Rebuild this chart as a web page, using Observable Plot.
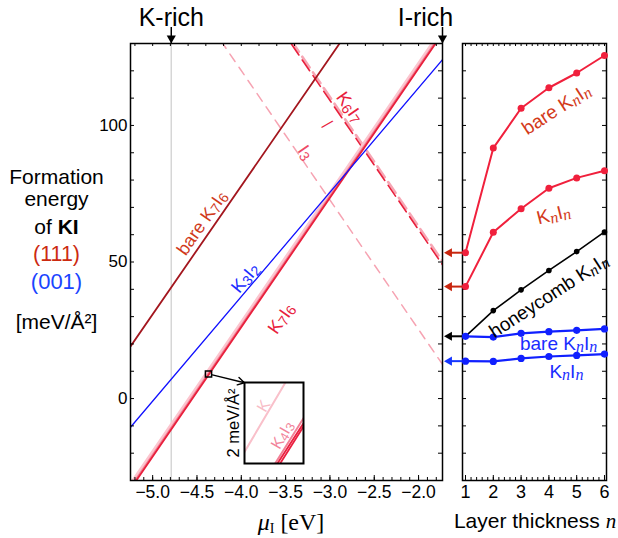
<!DOCTYPE html>
<html><head><meta charset="utf-8">
<script src="https://cdn.jsdelivr.net/npm/d3@7"></script>
<script src="https://cdn.jsdelivr.net/npm/@observablehq/plot@0.6"></script>
<style>
body{margin:0;background:#fff;}
#wrap{position:relative;width:618px;height:538px;overflow:hidden;font-family:"Liberation Sans",Arial,sans-serif;background:#fff;}
#wrap svg{display:block;}
</style></head><body><div id="wrap"></div>
<script>
// ---------------- data ----------------
const muDomain = [-5.25, -1.73];          // μI [eV]
const eDomain = [-30, 130];               // meV/Å²
const kRichMu = -4.79;
const iRichMu = -1.73;
const lineMu = [-5.25, -1.73];            // ends of each straight line
const bareK7I6 = [19.1, 184.6];
const K7I6 = [-33.1, 133.7];
const K4I3 = [-32.5, 134.3];
const Kslab = [-31.3, 135.5];
const K3I2 = [-10.5, 124.1];
const K6I7 = [215.8, 49.0];
const K6I7b = [217.0, 50.2];
const I3 = [179.3, 12.5];
const boxPoint = {mu: -4.37, E: 9.0};
const insetAnchor = {mu: -3.965, E: 5.8};

const nValues = [1, 2, 3, 4, 5, 6];
const nDomain = [0.892, 6.072];
const bare111 = [53.4, 91.7, 106.3, 113.8, 119.2, 125.6];
const knin111 = [41.0, 60.9, 69.5, 77.0, 80.8, 83.4];
const honeycomb111 = [22.8, 32.2, 39.8, 46.9, 53.8, 61.0];
const bare001 = [22.8, 22.5, 23.9, 24.5, 25.0, 25.5];
const knin001 = [13.7, 13.6, 14.7, 15.4, 15.8, 16.3];

// inset (zoomed view, 2 meV/Å² tall)
const insetU = [0, 1];
const insetK = [0.286, 2.756];
const insetK4I3 = [-1.211, 1.119];
const insetRedA = [-1.257, 0.993];
const insetRedB = [-1.396, 0.914];

const mainLabels = [
  {text: "bare K_{7}I_{6}", mu: -4.443, E: 64.3, rotate: -55, color: "#d03a1c"},
  {text: "K_{3}I_{2}", mu: -3.954, E: 44.1, rotate: -50, color: "#1a2cff"},
  {text: "K_{7}I_{6}", mu: -3.547, E: 29.3, rotate: -55, color: "#e8203c"},
  {text: "K_{6}I_{7}", mu: -2.778, E: 106.6, rotate: 55, color: "#e8203c"},
  {text: "I_{3}", mu: -3.276, E: 90.1, rotate: 55, color: "#ee4a66"}
];
const leaderMark = [{mu: -3.021, E: 100.6}];
const rightLabels = [
  {text: "bare K_{n}I_{n}", n: 4.27, E: 105.9, rotate: -33, color: "#d33a1a"},
  {text: "K_{n}I_{n}", n: 4.17, E: 67.4, rotate: -14, color: "#d33a1a"},
  {text: "honeycomb K_{n}I_{n}", n: 4.0, E: 37.6, rotate: -33, color: "#000000"},
  {text: "bare K_{n}I_{n}", n: 4.35, E: 20.0, rotate: 0, color: "#1a2cff"},
  {text: "K_{n}I_{n}", n: 4.63, E: 9.9, rotate: 0, color: "#1a2cff"}
];

// ---------------- helpers ----------------
const W = 618, H = 538;
const FONT = '"Liberation Sans", Arial, sans-serif';
const SERIF = '"Liberation Serif", "Times New Roman", serif';
const wrap = document.getElementById("wrap");
const mk = (xs, vals, kx = "mu") => xs.map((x, i) => ({[kx]: x, E: vals[i]}));
function place(el, left, top) {
  const d = document.createElement("div");
  Object.assign(d.style, {position: "absolute", left: left + "px", top: top + "px"});
  d.appendChild(el); wrap.appendChild(d); return d;
}
function richify(root) {
  root.querySelectorAll("text").forEach(t => {
    const target = t.querySelector("tspan") || t;
    const s = target.textContent;
    if (!s.includes("_{")) return;
    const fs = parseFloat(getComputedStyle(t).fontSize) || 16;
    const shift = 0.12 * fs;
    target.textContent = "";
    let lowered = false;
    const add = (str, sub) => {
      if (!str) return;
      const ts = document.createElementNS("http://www.w3.org/2000/svg", "tspan");
      ts.textContent = str;
      if (sub) {
        ts.setAttribute("font-size", (0.78 * fs).toFixed(1));
        if (/^[a-z]$/.test(str)) {
          ts.setAttribute("font-family", SERIF);
          ts.setAttribute("font-style", "italic");
          ts.setAttribute("font-size", (0.85 * fs).toFixed(1));
        }
        if (!lowered) { ts.setAttribute("dy", shift.toFixed(1)); lowered = true; }
      } else if (lowered) { ts.setAttribute("dy", (-shift).toFixed(1)); lowered = false; }
      target.appendChild(ts);
    };
    const re = /_\{([^}]*)\}/g; let last = 0, m;
    while ((m = re.exec(s))) { add(s.slice(last, m.index), false); add(m[1], true); last = re.lastIndex; }
    add(s.slice(last), false);
  });
}
function htmlLabel(html, cx, baseline, size, opts = {}) {
  const serif = opts.serif;
  const d = document.createElement("div");
  d.innerHTML = html;
  Object.assign(d.style, {
    position: "absolute", whiteSpace: "nowrap", fontSize: size + "px", lineHeight: "1",
    fontFamily: serif ? SERIF : FONT, color: opts.color || "#000",
    left: cx + "px", top: (baseline - (serif ? 0.8375 : 0.8465) * size) + "px",
    transform: "translateX(-50%)"
  });
  wrap.appendChild(d);
}

// ---------------- main panel ----------------
const mM = {left: 130, right: 176, top: 43, bottom: 58};
const fW = W - mM.left - mM.right, fH = H - mM.top - mM.bottom;
const yTicks = d3.range(-20, 121, 10);
const xMinorB = d3.range(-5.2, -1.75, 0.1).map(v => +v.toFixed(2));
const xMajor = d3.range(-5.0, -1.99, 0.5).map(v => +v.toFixed(2));
const xMinorT = d3.range(-5.2, -1.75, 0.2).map(v => +v.toFixed(2));
const L = {x: "mu", y: "E", clip: true};

const main = Plot.plot({
  width: W, height: H, marginLeft: mM.left, marginRight: mM.right, marginTop: mM.top, marginBottom: mM.bottom,
  x: {domain: muDomain}, y: {domain: eDomain},
  style: {fontFamily: FONT, fontSize: "17.5px", background: "none", overflow: "visible", color: "black"},
  marks: [
    Plot.ruleX([kRichMu], {stroke: "#d6d6d6", strokeWidth: 1.5}),
    Plot.line(mk(lineMu, I3), {...L, stroke: "#f6a3b2", strokeWidth: 1.5, strokeDasharray: "9,7"}),
    Plot.line(mk(lineMu, K6I7b), {...L, stroke: "#f7a6b4", strokeWidth: 2.6, strokeDasharray: "13,6"}),
    Plot.line(mk(lineMu, K6I7), {...L, stroke: "#e8203c", strokeWidth: 1.6, strokeDasharray: "13,6"}),
    Plot.line(mk(lineMu, Kslab), {...L, stroke: "#fbc6cf", strokeWidth: 3}),
    Plot.line(mk(lineMu, K4I3), {...L, stroke: "#f27e94", strokeWidth: 2}),
    Plot.line(mk(lineMu, K7I6), {...L, stroke: "#e8203c", strokeWidth: 1.8}),
    Plot.line(mk(lineMu, K3I2), {...L, stroke: "#1010ff", strokeWidth: 1.3}),
    Plot.line(mk(lineMu, bareK7I6), {...L, stroke: "#a3161e", strokeWidth: 1.8}),
    // ticks (inward)
    Plot.tickY(yTicks, {y: d => d, insetRight: fW - 4, strokeWidth: 1}),
    Plot.tickY(yTicks, {y: d => d, insetLeft: fW - 4, strokeWidth: 1}),
    Plot.tickX(xMinorB, {x: d => d, insetTop: fH - 3, strokeWidth: 1}),
    Plot.tickX(xMajor, {x: d => d, insetTop: fH - 5, strokeWidth: 1}),
    Plot.tickX(xMinorT, {x: d => d, insetBottom: fH - 3, strokeWidth: 1}),
    Plot.frame({stroke: "black", strokeWidth: 1.5}),
    Plot.axisX({ticks: xMajor, tickSize: 0, tickPadding: 5, tickFormat: d3.format(".1f"), label: null}),
    Plot.axisY({ticks: [0, 50, 100], tickSize: 0, tickPadding: 3, label: null, fontSize: 17}),
    // zoom box + arrow to inset
    Plot.dot([boxPoint], {x: "mu", y: "E", symbol: "square", r: 3.5, stroke: "black", strokeWidth: 1.5, fill: "none"}),
    Plot.arrow([{}], {x1: boxPoint.mu, y1: boxPoint.E, x2: insetAnchor.mu, y2: insetAnchor.E, insetStart: 4, headLength: 8, stroke: "black", strokeWidth: 1.4}),
    // K-rich / I-rich arrows
    Plot.tickX([kRichMu, iRichMu], {x: d => d, insetTop: -16, insetBottom: fH, stroke: "black", strokeWidth: 1.5}),
    Plot.dot([kRichMu, iRichMu], {x: d => d, frameAnchor: "top", dy: -5.3, symbol: "triangle", r: 3.4, fill: "black", rotate: 180}),
    Plot.text(["K-rich"], {x: kRichMu, frameAnchor: "top", textAnchor: "middle", dy: -26, fontSize: 25, lineAnchor: "middle"}),
    Plot.text(["I-rich"], {x: iRichMu, frameAnchor: "top", textAnchor: "middle", dy: -26, dx: -17, fontSize: 25, lineAnchor: "middle"}),
    // line labels
    Plot.text(mainLabels, {x: "mu", y: "E", text: "text", rotate: "rotate", fill: "color", fontSize: 18, lineAnchor: "middle"}),
    Plot.text(leaderMark, {x: "mu", y: "E", text: () => "|", rotate: 60, fill: "#e8203c", fontSize: 14, lineAnchor: "middle"})
  ]
});
place(main, 0, 0);

// ---------------- right panel ----------------
const rM = {left: 462, right: 12, top: 43, bottom: 58};
const rW = W - rM.left - rM.right;
const pxPerN = rW / (nDomain[1] - nDomain[0]);
const arrowTipN = nDomain[0] - 18.5 / pxPerN;
const nMinor = d3.range(1, 6.01, 0.2).map(v => +v.toFixed(2));
const arrows = [
  {E: bare111[0], c: "#c8260f"},
  {E: knin111[0], c: "#c8260f"},
  {E: honeycomb111[0], c: "#000000"},
  {E: knin001[0], c: "#1535ff"}
];
const R = {x: "n", y: "E"};
const RED = "#f0203c", BLUE = "#1020ff";
const right = Plot.plot({
  width: W, height: H, marginLeft: rM.left, marginRight: rM.right, marginTop: rM.top, marginBottom: rM.bottom,
  x: {domain: nDomain}, y: {domain: eDomain, axis: null},
  style: {fontFamily: FONT, fontSize: "18px", background: "none", overflow: "visible", color: "black"},
  marks: [
    Plot.tickY(yTicks, {y: d => d, insetRight: rW - 4}),
    Plot.tickY(yTicks, {y: d => d, insetLeft: rW - 4}),
    Plot.tickX(nMinor, {x: d => d, insetTop: fH - 3}),
    Plot.tickX(nValues, {x: d => d, insetTop: fH - 5}),
    Plot.tickX(nMinor, {x: d => d, insetBottom: fH - 3}),
    Plot.frame({stroke: "black", strokeWidth: 1.5}),
    Plot.axisX({ticks: nValues, tickSize: 0, tickPadding: 5, tickFormat: d3.format("d"), label: null}),
    // arrows to the left panel
    Plot.ruleY(arrows, {y: "E", x1: nDomain[0], x2: arrowTipN + 4 / pxPerN, stroke: "c", strokeWidth: 2}),
    Plot.dot(arrows, {x: arrowTipN, y: "E", dx: 5.3, symbol: "triangle", r: 3.4, fill: "c", rotate: -90}),
    // series
    Plot.line(mk(nValues, bare111, "n"), {...R, stroke: RED, strokeWidth: 2}),
    Plot.dot(mk(nValues, bare111, "n"), {...R, fill: RED, r: 3.5}),
    Plot.line(mk(nValues, knin111, "n"), {...R, stroke: RED, strokeWidth: 2}),
    Plot.dot(mk(nValues, knin111, "n"), {...R, fill: RED, r: 3.5}),
    Plot.line(mk(nValues, honeycomb111, "n"), {...R, stroke: "black", strokeWidth: 1.6}),
    Plot.dot(mk(nValues, honeycomb111, "n"), {...R, fill: "black", r: 2.8}),
    Plot.line(mk(nValues, bare001, "n"), {...R, stroke: BLUE, strokeWidth: 2.2}),
    Plot.dot(mk(nValues, bare001, "n"), {...R, fill: BLUE, r: 3.6}),
    Plot.line(mk(nValues, knin001, "n"), {...R, stroke: BLUE, strokeWidth: 2.2}),
    Plot.dot(mk(nValues, knin001, "n"), {...R, fill: BLUE, r: 3.6}),
    Plot.text(rightLabels, {x: "n", y: "E", text: "text", rotate: "rotate", fill: "color", fontSize: 19, lineAnchor: "middle"})
  ]
});
place(right, 0, 0);

// ---------------- inset ----------------
const iM = {left: 22, right: 2, top: 1, bottom: 1};
const iW = 59, iH = 81;
const IL = {x: "u", y: "E", clip: true};
const inset = Plot.plot({
  width: iM.left + iW + iM.right, height: iM.top + iH + iM.bottom,
  marginLeft: iM.left, marginRight: iM.right, marginTop: iM.top, marginBottom: iM.bottom,
  x: {domain: [0, 1], axis: null}, y: {domain: [0, 2], axis: null},
  style: {fontFamily: FONT, fontSize: "16px", background: "none", overflow: "visible", color: "black"},
  marks: [
    Plot.frame({fill: "white"}),
    Plot.line(mk(insetU, insetK, "u"), {...IL, stroke: "#f9c0ca", strokeWidth: 2}),
    Plot.line(mk(insetU, insetK4I3, "u"), {...IL, stroke: "#f28096", strokeWidth: 2}),
    Plot.line(mk(insetU, insetRedA, "u"), {...IL, stroke: "#ea2040", strokeWidth: 1.8}),
    Plot.line(mk(insetU, insetRedB, "u"), {...IL, stroke: "#ea2040", strokeWidth: 1.8}),
    Plot.text([{u: 0.327, E: 1.42, t: "K"}], {x: "u", y: "E", text: "t", rotate: -60, fill: "#f8bcc6", fontSize: 16, lineAnchor: "middle"}),
    Plot.text([{u: 0.64, E: 0.70, t: "K_{4}I_{3}"}], {x: "u", y: "E", text: "t", rotate: -60, fill: "#f2849a", fontSize: 16, lineAnchor: "middle"}),
    Plot.frame({stroke: "black", strokeWidth: 2}),
    Plot.text(["2 meV/Å²"], {frameAnchor: "left", textAnchor: "middle", dx: -11, rotate: -90, fontSize: 16.5, lineAnchor: "middle"})
  ]
});
const ax = main.scale("x").apply(insetAnchor.mu), ay = main.scale("y").apply(insetAnchor.E);
place(inset, ax - iM.left, ay - iM.top);

richify(wrap);

// ---------------- axis titles (HTML text) ----------------
htmlLabel("Formation", 56.5, 183.3, 21);
htmlLabel("energy", 56.5, 206, 21);
htmlLabel("of <b>KI</b>", 56.5, 233.3, 21);
htmlLabel("(111)", 56.5, 261.7, 21.5, {color: "#cc2a10"});
htmlLabel("(001)", 56.5, 290, 22, {color: "#1a44ff"});
htmlLabel("[meV/Å²]", 56.5, 328.3, 21);
htmlLabel('<i>μ</i><span style="font-size:14px;position:relative;top:3px">I</span> [eV]', 291, 530, 24, {serif: true});
htmlLabel('Layer thickness <i style="font-family:' + SERIF.replace(/"/g, "'") + '">n</i>', 535, 528, 21);
</script></body></html>
